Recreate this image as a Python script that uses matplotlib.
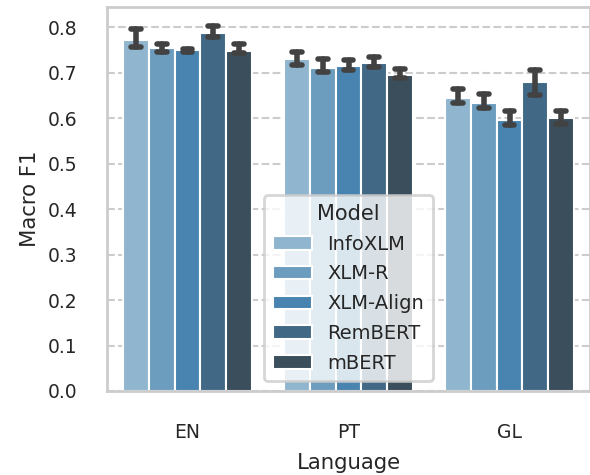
import matplotlib
matplotlib.use("Agg")
import matplotlib.pyplot as plt
import seaborn as sns
import numpy as np

languages = ["EN", "PT", "GL"]
models = ["InfoXLM", "XLM-R", "XLM-Align", "RemBERT", "mBERT"]
# mean values per model for each language
means = {
    "InfoXLM":   [0.771, 0.729, 0.645],
    "XLM-R":     [0.754, 0.711, 0.632],
    "XLM-Align": [0.749, 0.714, 0.596],
    "RemBERT":   [0.787, 0.720, 0.680],
    "mBERT":     [0.747, 0.695, 0.600],
}
err_low = {
    "InfoXLM":   [0.757, 0.717, 0.634],
    "XLM-R":     [0.746, 0.701, 0.622],
    "XLM-Align": [0.746, 0.706, 0.584],
    "RemBERT":   [0.777, 0.712, 0.650],
    "mBERT":     [0.742, 0.689, 0.587],
}
err_high = {
    "InfoXLM":   [0.796, 0.744, 0.664],
    "XLM-R":     [0.763, 0.730, 0.653],
    "XLM-Align": [0.752, 0.728, 0.616],
    "RemBERT":   [0.802, 0.734, 0.706],
    "mBERT":     [0.763, 0.708, 0.616],
}

sns.set_theme(style="whitegrid", rc={"grid.linestyle": "--"})
plt.rcParams["font.family"] = ["DejaVu Sans"]

palette = sns.color_palette("Blues_d", len(models))
palette = [sns.desaturate(c, 0.75) for c in palette]

fig = plt.figure(figsize=(5.9, 4.75), dpi=100)
ax = fig.add_axes([107/590, 84/475, 483/590, 384/475])

x = np.arange(len(languages))
n = len(models)
group_w = 0.8
bw = group_w / n
for i, m in enumerate(models):
    pos = x - group_w/2 + bw*(i + 0.5)
    ax.bar(pos, means[m], width=bw, color=palette[i], edgecolor="white",
           linewidth=1.5, label=m, zorder=2)
    cap = bw * 0.19
    for p, lo, hi in zip(pos, err_low[m], err_high[m]):
        kw = dict(color=(0.26, 0.26, 0.26), lw=4, solid_capstyle="round", zorder=3)
        ax.plot([p, p], [lo, hi], **kw)
        ax.plot([p - cap, p + cap], [lo, lo], **kw)
        ax.plot([p - cap, p + cap], [hi, hi], **kw)

ax.set_xlim(-0.5, 2.5)
ax.set_ylim(0, 0.844)
ax.set_yticks(np.arange(0, 0.81, 0.1))
ax.set_xticks(x)
ax.set_xticklabels(languages)
ax.grid(axis="x", visible=False)
ax.grid(axis="y", linestyle="--", color="#cccccc", linewidth=1.5, zorder=0)
ax.set_axisbelow(True)
for s in ax.spines.values():
    s.set_color("#cccccc")
    s.set_linewidth(2)
ax.tick_params(axis="y", labelsize=13.5, colors="#262626", pad=15)
ax.tick_params(axis="x", labelsize=13.5, colors="#262626", pad=17)
ax.set_xlabel("Language", fontsize=15.3, color="#262626", labelpad=8)
ax.set_ylabel("Macro F1", fontsize=15.3, color="#262626", labelpad=6)

leg = ax.legend(title="Model", loc="lower center", fontsize=14, title_fontsize=15,
                frameon=True, framealpha=0.8, edgecolor="#cccccc",
                handlelength=2.0, labelspacing=0.55, borderpad=0.45)
leg.get_frame().set_linewidth(2)

fig.savefig("out.png", dpi=100)
